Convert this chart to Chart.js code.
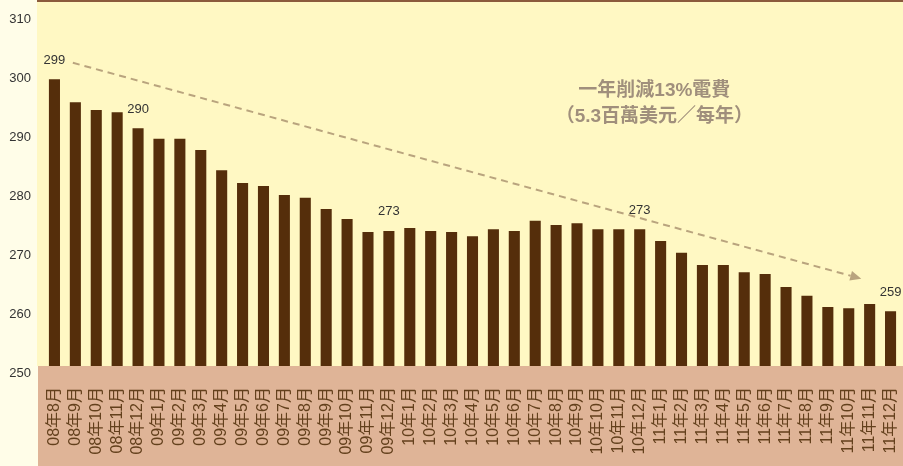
<!DOCTYPE html>
<html>
<head>
<meta charset="utf-8">
<script src="https://cdn.jsdelivr.net/npm/chart.js@4.4.1/dist/chart.umd.min.js"></script>
<style>
  html, body { margin: 0; padding: 0; background: #fffde8; }
  canvas { display: block; }
</style>
</head>
<body>
<canvas id="myChart0" width="903" height="466"></canvas>
<script>
// monthly electricity use
var months = ['08年8月','08年9月','08年10月','08年11月','08年12月',
  '09年1月','09年2月','09年3月','09年4月','09年5月','09年6月','09年7月','09年8月','09年9月','09年10月','09年11月','09年12月',
  '10年1月','10年2月','10年3月','10年4月','10年5月','10年6月','10年7月','10年8月','10年9月','10年10月','10年11月','10年12月',
  '11年1月','11年2月','11年3月','11年4月','11年5月','11年6月','11年7月','11年8月','11年9月','11年10月','11年11月','11年12月'];
var usage = [298.6, 294.7, 293.4, 293.0, 290.3,
  288.5, 288.5, 286.6, 283.2, 281.0, 280.5, 279.0, 278.5, 276.6, 274.9, 272.7, 272.9,
  273.4, 272.9, 272.7, 272.0, 273.2, 272.9, 274.6, 273.9, 274.2, 273.2, 273.2, 273.2,
  271.2, 269.2, 267.1, 267.1, 265.9, 265.6, 263.4, 261.9, 260.0, 259.8, 260.5, 259.3];
var yTicks = [250, 260, 270, 280, 290, 300, 310];
var calloutIdx = [0, 4, 16, 28, 40];
var calloutText = ['299', '290', '273', '273', '259'];
// trend arrow, [category index, value]
var trendFrom = [0.88, 301.4];
var trendTo = [38.6, 264.8];
var noteLines = ['一年削減13%電費', '（5.3百萬美元／每年）'];
var noteAt = [28.7, 296.6];

var bgPlugin = {
  id: 'bgPlugin',
  beforeDraw: function(chart) {
    var c = chart.ctx, a = chart.chartArea;
    c.save();
    c.fillStyle = '#fffde8';
    c.fillRect(0, 0, chart.width, chart.height);
    c.fillStyle = '#fff8c3';
    c.fillRect(a.left - 7, 0, chart.width - a.left + 7, a.bottom);
    c.fillStyle = '#dfb497';
    c.fillRect(a.left - 6, a.bottom, chart.width - a.left + 6, chart.height - a.bottom);
    c.fillStyle = '#8b5a3c';
    c.fillRect(a.left - 7, 0, chart.width - a.left + 7, 2);
    c.restore();
  },
  afterDatasetsDraw: function(chart) {
    var c = chart.ctx, xs = chart.scales.x, ys = chart.scales.y;
    var meta = chart.getDatasetMeta(0);
    c.save();
    // value callouts
    c.font = '13px "Liberation Sans", Arial, sans-serif';
    c.fillStyle = '#333333';
    c.textAlign = 'center';
    c.textBaseline = 'middle';
    for (var i = 0; i < calloutIdx.length; i++) {
      var bar = meta.data[calloutIdx[i]];
      c.fillText(calloutText[i], bar.x, bar.y - 19);
    }
    // dashed trend arrow
    var x1 = xs.getPixelForValue(trendFrom[0]), y1 = ys.getPixelForValue(trendFrom[1]);
    var x2 = xs.getPixelForValue(trendTo[0]), y2 = ys.getPixelForValue(trendTo[1]);
    var ang = Math.atan2(y2 - y1, x2 - x1);
    var headLen = 11;
    c.strokeStyle = '#b9a47e';
    c.fillStyle = '#b9a47e';
    c.lineWidth = 2;
    c.setLineDash([7, 5]);
    c.beginPath();
    c.moveTo(x1, y1);
    c.lineTo(x2 - headLen * Math.cos(ang), y2 - headLen * Math.sin(ang));
    c.stroke();
    c.setLineDash([]);
    c.beginPath();
    c.moveTo(x2, y2);
    c.lineTo(x2 - headLen * Math.cos(ang) + 5 * Math.sin(ang), y2 - headLen * Math.sin(ang) - 5 * Math.cos(ang));
    c.lineTo(x2 - headLen * Math.cos(ang) - 5 * Math.sin(ang), y2 - headLen * Math.sin(ang) + 5 * Math.cos(ang));
    c.closePath();
    c.fill();
    // note text
    var nx = xs.getPixelForValue(noteAt[0]), ny = ys.getPixelForValue(noteAt[1]);
    c.font = 'bold 19px "Liberation Sans", "Noto Sans CJK TC", sans-serif';
    c.fillStyle = '#a08f7c';
    c.fillText(noteLines[0], nx, ny);
    c.fillText(noteLines[1], nx, ny + 26);
    c.restore();
  }
};

var ctx = document.getElementById('myChart0').getContext('2d');
var chart = new Chart(ctx, {
  type: 'bar',
  data: {
    labels: months,
    datasets: [{
      label: '電費',
      backgroundColor: '#552e0b',
      data: usage,
      barPercentage: 0.53,
      categoryPercentage: 1
    }]
  },
  options: {
    responsive: false,
    animation: false,
    devicePixelRatio: 1,
    layout: { padding: { top: 2, right: 2, left: 0, bottom: 0 } },
    plugins: { legend: { display: false }, tooltip: { enabled: false } },
    scales: {
      x: {
        offset: true,
        grid: { display: false, drawTicks: false },
        border: { display: false },
        ticks: {
          autoSkip: false,
          minRotation: 90,
          maxRotation: 90,
          padding: 21,
          color: '#63401c',
          font: { size: 16, family: '"Liberation Sans", "Noto Sans CJK TC", sans-serif' }
        },
        afterFit: function(scale) {
          scale.height = 100;
          scale.paddingLeft = 0;
          scale.paddingRight = 0;
        }
      },
      y: {
        min: 250,
        max: 311.7,
        grid: { display: false, drawTicks: false },
        border: { display: false },
        afterBuildTicks: function(scale) {
          scale.ticks = yTicks.map(function(v) { return { value: v }; });
        },
        ticks: {
          padding: 13,
          labelOffset: 7,
          color: '#333333',
          font: { size: 13, family: '"Liberation Sans", Arial, sans-serif' }
        },
        afterFit: function(scale) {
          scale.width = 44;
          scale.paddingTop = 0;
          scale.paddingBottom = 0;
        }
      }
    }
  },
  plugins: [bgPlugin]
});
</script>
</body>
</html>
